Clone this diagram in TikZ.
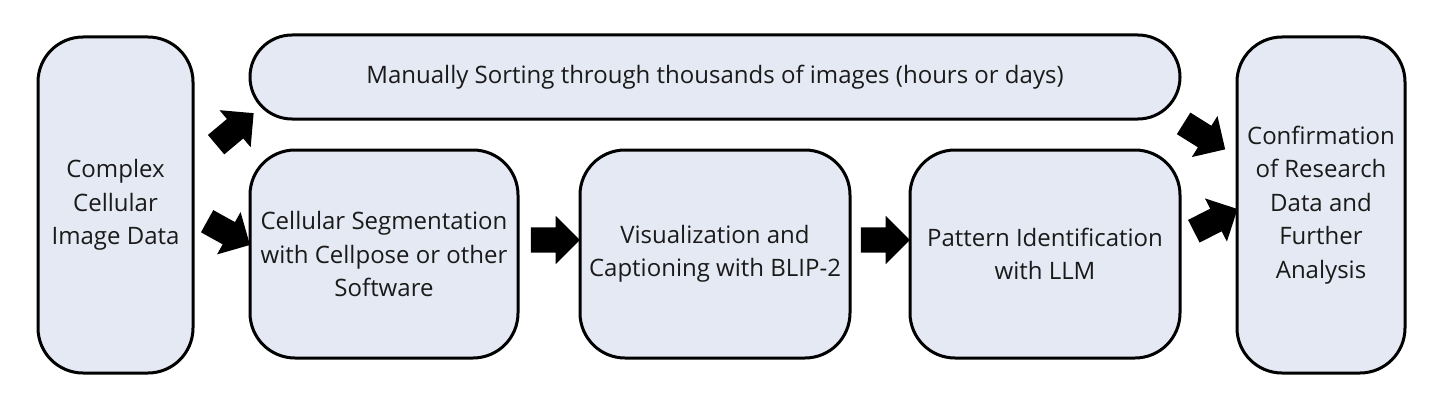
\documentclass[tikz,border=0pt]{standalone}
\usepackage{fontspec}
\setmainfont{Open Sans}
\usetikzlibrary{shapes.arrows}
\definecolor{boxfill}{HTML}{E5E9F3}
\definecolor{txt}{HTML}{1A1A1A}
\begin{document}
\begin{tikzpicture}[x=1pt,y=-1pt,
  box/.style={draw=black,line width=3pt,fill=boxfill,text=txt,align=center,
    inner sep=0pt,font=\fontsize{24}{33.5}\selectfont},
  blockarrow/.style={single arrow,fill=black,draw=none,inner xsep=0pt,inner ysep=12.5pt,
    minimum width=48pt,minimum height=49pt,single arrow head extend=11.5pt}]
\useasboundingbox (0,0) rectangle (1444,404);
\node[box,rounded corners=45pt,minimum width=155pt,minimum height=336pt] (data) at (115.5,205)
  {Complex\\Cellular\\Image Data};
\node[box,rounded corners=42pt,minimum width=930pt,minimum height=84pt] (manual) at (715,77)
  {Manually Sorting through thousands of images (hours or days)};
\node[box,rounded corners=45pt,minimum width=268pt,minimum height=208pt] (seg) at (384,254)
  {Cellular Segmentation\\with Cellpose or other\\Software};
\node[box,rounded corners=45pt,minimum width=270pt,minimum height=208pt] (vis) at (715,254)
  {Visualization and\\Captioning with BLIP-2};
\node[box,rounded corners=45pt,minimum width=270pt,minimum height=208pt] (pat) at (1045,254)
  {Pattern Identification\\with LLM};
\node[box,rounded corners=45pt,minimum width=168pt,minimum height=336pt] (conf) at (1321,205)
  {Confirmation\\of Research\\Data and\\Further\\Analysis};
\node[blockarrow,rotate=40] (a1) at (230,133) {};
\node[blockarrow,rotate=-29] (a2) at (223,230) {};
\node[blockarrow] (a3) at (549,240) {};
\node[blockarrow] (a4) at (879,240) {};
\node[blockarrow,rotate=-32] (a5) at (1199,133) {};
\node[blockarrow,rotate=27] (a6) at (1210,223) {};
\end{tikzpicture}
\end{document}
